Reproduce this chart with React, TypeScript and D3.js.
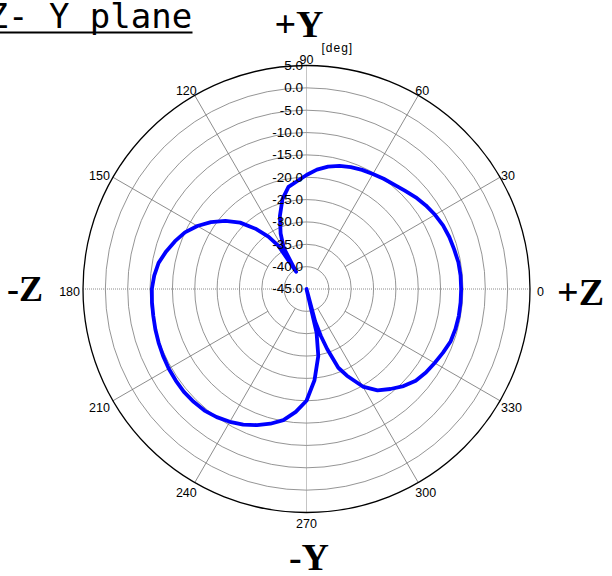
import React from 'react';
import * as d3 from 'd3';

// Measured pattern, Z-Y plane: angle (deg, counter-clockwise from +Z) and level (dB)
const angleDeg = [
  0, 5, 10, 15, 20, 25, 30, 35, 40, 45, 50, 55, 60, 65, 70, 75, 80, 85, 90,
  95, 100, 105, 110, 115, 119, 121, 123, 126, 130, 135, 140, 145, 150, 155, 160, 165, 170, 175, 180,
  185, 190, 195, 200, 205, 210, 215, 220, 225, 230, 235, 240, 245, 250, 255, 260, 265, 270,
  275, 280, 283, 284, 285, 287, 289, 292, 295, 300, 305, 310, 315, 320, 325, 330, 335, 340, 345, 350, 355,
];
const gainDb = [
  -10.4, -10.4, -10.5, -10.8, -11.0, -11.3, -11.8, -12.4, -13.1, -13.9, -14.5, -14.9, -15.3, -15.6, -16.0, -16.5, -17.2, -18.2, -19.5,
  -20.8, -21.8, -24.2, -27.6, -31.3, -34.5, -40.5, -33.5, -30.5, -27.5, -24.0, -21.3, -18.9, -16.8, -15.0, -13.7, -12.5, -11.4, -10.8, -10.4,
  -10.3, -10.2, -10.0, -9.8, -9.6, -9.4, -9.3, -9.2, -9.3, -9.5, -10.0, -10.7, -11.5, -12.6, -13.8, -15.2, -17.4, -20.0,
  -24.5, -29.8, -35.0, -50.0, -37.5, -34.0, -30.8, -26.0, -23.6, -19.8, -17.3, -15.8, -14.3, -13.1, -12.4, -11.9, -11.3, -10.7, -10.5, -10.4, -10.4,
];

const ringValues = [5, 0, -5, -10, -15, -20, -25, -30, -35, -40, -45];
const angleTicks = [0, 30, 60, 90, 120, 150, 180, 210, 240, 270, 300, 330];
const titleText = 'Z- Y plane';
const unitText = '[deg]';
const axisNames = { top: '+Y', bottom: '-Y', left: '-Z', right: '+Z' };

export default function App() {
  const W = 612;
  const H = 576;
  const cx = 306.5;
  const cy = 289;
  const R = 223.5;

  const r = d3.scaleLinear().domain([-45, 5]).range([0, R]).clamp(true);
  const toRad = (d: number) => ((90 - d) * Math.PI) / 180;
  const line = d3
    .lineRadial<number>()
    .angle((_, i) => toRad(angleDeg[i]))
    .radius((d) => r(d))
    .curve(d3.curveLinearClosed);

  const innerRings = ringValues.filter((v) => v > -45 && v < 5);
  const sansFont = "'Liberation Sans', Arial, sans-serif";
  const serifFont = "'Liberation Serif', 'Times New Roman', serif";

  return (
    <svg
      width={W}
      height={H}
      style={{ position: 'absolute', left: 0, top: 0, background: '#fff' }}
    >
      {/* title */}
      <text
        x={-12.5}
        y={28.3}
        fontFamily="'DejaVu Sans Mono', monospace"
        fontSize={34}
        fill="#000"
      >
        {titleText}
      </text>
      <line x1={-5} x2={192.5} y1={32.5} y2={32.5} stroke="#000" strokeWidth={2} />

      <g transform={`translate(${cx},${cy})`}>
        {/* rings */}
        {innerRings.map((v) => (
          <circle key={v} r={r(v)} fill="none" stroke="#7a7a7a" strokeWidth={0.8} />
        ))}
        {/* spokes */}
        {angleTicks
          .filter((a) => a % 90 !== 0)
          .map((a) => {
            const r0 = a % 60 === 0 ? r(-40) : r(-35);
            const t = (a * Math.PI) / 180;
            return (
              <line
                key={a}
                x1={r0 * Math.cos(t)}
                y1={-r0 * Math.sin(t)}
                x2={R * Math.cos(t)}
                y2={-R * Math.sin(t)}
                stroke="#707070"
                strokeWidth={0.8}
              />
            );
          })}
        {/* main axes dotted */}
        <line x1={-R} x2={R} y1={0} y2={0} stroke="#8a8a8a" strokeWidth={1} strokeDasharray="1,1" />
        <line x1={0} x2={0} y1={-R} y2={R} stroke="#8a8a8a" strokeWidth={1} strokeDasharray="1,1" />
        {/* outer circle */}
        <circle r={R} fill="none" stroke="#000" strokeWidth={1.3} />

        {/* pattern */}
        <path
          d={line(gainDb) || ''}
          fill="none"
          stroke="#0000ff"
          strokeWidth={3.8}
          strokeLinejoin="round"
        />

        {/* ring labels */}
        {ringValues.map((v) => (
          <text
            key={v}
            x={-3.5}
            y={-r(v)}
            dy="0.33em"
            textAnchor="end"
            fontFamily={sansFont}
            fontSize={13.5}
            fill="#000"
          >
            {v.toFixed(1)}
          </text>
        ))}

        {/* angle labels */}
        {angleTicks.map((a) => {
          const t = (a * Math.PI) / 180;
          const c = Math.cos(t);
          const s = Math.sin(t);
          const px = R * c;
          const py = -R * s;
          let anchor = 'middle';
          let dx = 0;
          if (c > 0.1) {
            anchor = 'start';
            dx = c > 0.95 ? 7 : c > 0.7 ? 1 : -3;
          } else if (c < -0.1) {
            anchor = 'end';
            dx = c < -0.7 ? -3 : 2;
          }
          const dy = 3 - 8.5 * s;
          return (
            <text
              key={a}
              x={px + dx}
              y={py + dy}
              textAnchor={anchor}
              dominantBaseline="central"
              fontFamily={sansFont}
              fontSize={12.5}
              fill="#000"
            >
              {a}
            </text>
          );
        })}
      </g>

      {/* unit */}
      <text x={321.5} y={51.5} fontFamily={sansFont} fontSize={12} letterSpacing={1} fill="#000">
        {unitText}
      </text>

      {/* axis names */}
      <text x={299} y={36.7} textAnchor="middle" fontFamily={serifFont} fontWeight="bold" fontSize={38}>
        {axisNames.top}
      </text>
      <text x={309} y={570} textAnchor="middle" fontFamily={serifFont} fontWeight="bold" fontSize={38}>
        {axisNames.bottom}
      </text>
      <text x={7} y={300.5} textAnchor="start" fontFamily={serifFont} fontWeight="bold" fontSize={36}>
        {axisNames.left}
      </text>
      <text x={557} y={305} textAnchor="start" fontFamily={serifFont} fontWeight="bold" fontSize={38}>
        {axisNames.right}
      </text>
    </svg>
  );
}
